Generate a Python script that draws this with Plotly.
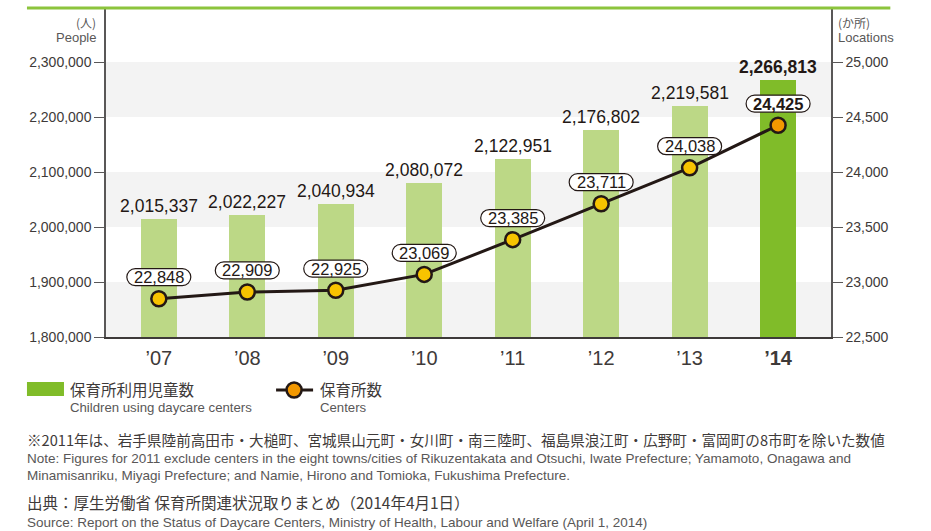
import plotly.graph_objects as go

# data
years = ["’07", "’08", "’09", "’10", "’11", "’12", "’13", "’14"]
children = [2015337, 2022227, 2040934, 2080072, 2122951, 2176802, 2219581, 2266813]
centers = [22848, 22909, 22925, 23069, 23385, 23711, 24038, 24425]
left_ticks = [1800000, 1900000, 2000000, 2100000, 2200000, 2300000]
right_ticks = [22500, 23000, 23500, 24000, 24500, 25000]

SANS = "Liberation Sans, Arial, Helvetica"
CJK = "Noto Sans CJK JP, Noto Sans, sans-serif"
DARK = "#3e3a39"
GREY = "#595757"

# plot area in page pixels
L, R, T, B = 106, 830.7, 9, 337


def px_x(px):
    return (px - L) / (R - L)


def px_y(py):
    return (B - py) / (B - T)


def pill(w=64, h=17, dy=21.6):
    # rounded box path, in pixels relative to the marker
    r = h / 2
    k = 0.5523 * r
    x1, x2 = -w / 2 + r, w / 2 - r
    yb, yt, ym = dy - r, dy + r, dy
    return (f"M{x1},{yb} L{x2},{yb} "
            f"C{x2 + k},{yb} {x2 + r},{ym - k} {x2 + r},{ym} "
            f"C{x2 + r},{ym + k} {x2 + k},{yt} {x2},{yt} "
            f"L{x1},{yt} "
            f"C{x1 - k},{yt} {x1 - r},{ym + k} {x1 - r},{ym} "
            f"C{x1 - r},{ym - k} {x1 - k},{yb} {x1},{yb} Z")


bar_colors = ["#bcd886"] * 7 + ["#80bc29"]
marker_colors = ["#f7c300"] * 7 + ["#f39800"]
bar_text = [f"{v:,}" for v in children[:-1]] + [f"<b>{children[-1]:,}</b>"]

fig = go.Figure()
fig.add_trace(go.Bar(
    x=years, y=children, width=0.404,
    marker=dict(color=bar_colors, line=dict(width=0)),
    text=bar_text, textposition="outside", constraintext="none",
    textfont=dict(family=SANS, size=17.5, color="#231815"),
    cliponaxis=False, showlegend=False, hoverinfo="skip",
))
fig.add_trace(go.Scatter(
    x=years, y=centers, yaxis="y2", mode="lines+markers",
    line=dict(color="#231815", width=3),
    marker=dict(size=15, color=marker_colors, line=dict(color="#231815", width=2.5)),
    cliponaxis=False, showlegend=False, hoverinfo="skip",
))

shapes = []
# alternating grey bands
for lo in [1800000, 2000000, 2200000]:
    shapes.append(dict(type="rect", xref="paper", yref="y", x0=0, x1=1,
                       y0=lo, y1=lo + 100000, fillcolor="#f3f3f3",
                       line=dict(width=0), layer="below"))
# top green rule
shapes.append(dict(type="line", xref="paper", yref="paper",
                   x0=px_x(27), x1=px_x(890), y0=px_y(8), y1=px_y(8),
                   line=dict(color="#8cc43c", width=3)))

annotations = []
for i, (yr, c) in enumerate(zip(years, centers)):
    shapes.append(dict(type="path", xref="x", yref="y2", xsizemode="pixel",
                       ysizemode="pixel", xanchor=yr, yanchor=c, path=pill(),
                       fillcolor="white", line=dict(color="#231815", width=1.2)))
    txt = f"{c:,}" if i < 7 else f"<b>{c:,}</b>"
    annotations.append(dict(x=yr, y=c, xref="x", yref="y2", text=txt,
                            showarrow=False, yshift=21.6, yanchor="middle",
                            font=dict(family=SANS, size=16.5, color="#231815")))


def text_at(x, y, s, family, size, color, anchor="left"):
    annotations.append(dict(x=px_x(x), y=px_y(y), xref="paper", yref="paper",
                            text=s, xanchor=anchor, yanchor="middle", showarrow=False,
                            align=anchor, font=dict(family=family, size=size, color=color)))


# axis unit titles
text_at(98, 22, "(人)", CJK, 12, GREY, "right")
text_at(98, 37.5, "People", SANS, 13, GREY, "right")
text_at(836, 22, "(か所)", CJK, 12, GREY)
text_at(836, 37.5, "Locations", SANS, 13, GREY)

# custom legend
shapes.append(dict(type="rect", xref="paper", yref="paper",
                   x0=px_x(27), x1=px_x(64), y0=px_y(396), y1=px_y(382),
                   fillcolor="#80bc29", line=dict(width=0)))
shapes.append(dict(type="line", xref="paper", yref="paper",
                   x0=px_x(276), x1=px_x(313), y0=px_y(390), y1=px_y(390),
                   line=dict(color="#231815", width=3)))
shapes.append(dict(type="circle", xref="paper", yref="paper",
                   x0=px_x(286.5), x1=px_x(301.5), y0=px_y(397.5), y1=px_y(382.5),
                   fillcolor="#f39800", line=dict(color="#231815", width=2.5)))

text_at(68, 389, "保育所利用児童数", CJK, 15.5, DARK)
text_at(68, 407, "Children using daycare centers", SANS, 13.2, GREY)
text_at(318, 389, "保育所数", CJK, 15.5, DARK)
text_at(318, 407, "Centers", SANS, 13.2, GREY)

text_at(25, 439, "※2011年は、岩手県陸前高田市・大槌町、宮城県山元町・女川町・南三陸町、"
        "福島県浪江町・広野町・富岡町の8市町を除いた数値", CJK, 14.6, DARK)
text_at(25, 458, "Note: Figures for 2011 exclude centers in the eight towns/cities of "
        "Rikuzentakata and Otsuchi, Iwate Prefecture; Yamamoto, Onagawa and", SANS, 13.5, GREY)
text_at(25, 475, "Minamisanriku, Miyagi Prefecture; and Namie, Hirono and Tomioka, "
        "Fukushima Prefecture.", SANS, 13.5, GREY)
text_at(25, 502, "出典：厚生労働省 保育所関連状況取りまとめ（2014年4月1日）", CJK, 15.5, DARK)
text_at(25, 522, "Source: Report on the Status of Daycare Centers, Ministry of Health, "
        "Labour and Welfare (April 1, 2014)", SANS, 13.5, GREY)

fig.update_layout(
    width=931, height=531,
    margin=dict(l=L, r=931 - R, t=T, b=531 - B),
    paper_bgcolor="white", plot_bgcolor="white",
    bargap=0, shapes=shapes, annotations=annotations,
    xaxis=dict(type="category", range=[-0.597, 7.598], showgrid=False,
               tickvals=years,
               ticktext=years[:-1] + [f"<b>{years[-1]}</b>"],
               tickfont=dict(family=SANS, size=20, color=DARK),
               showline=True, linecolor=DARK, linewidth=1.5, ticks="",
               ticklabelstandoff=2, fixedrange=True),
    yaxis=dict(range=[1800000, 2396364], tickvals=left_ticks,
               tickformat=",", showgrid=False, zeroline=False,
               showline=True, linecolor=GREY, linewidth=1.5,
               ticks="outside", ticklen=10, tickcolor=GREY, tickwidth=1,
               tickfont=dict(family=SANS, size=14, color=DARK)),
    yaxis2=dict(range=[22500, 25481.8], tickvals=right_ticks, overlaying="y",
                side="right", tickformat=",", showgrid=False, zeroline=False,
                showline=True, linecolor=GREY, linewidth=1.5,
                ticks="outside", ticklen=10, tickcolor=GREY, tickwidth=1,
                tickfont=dict(family=SANS, size=14, color=DARK)),
)

fig.write_html("out.html", config={"displayModeBar": False},
               post_script="document.body.style.margin='0';")
